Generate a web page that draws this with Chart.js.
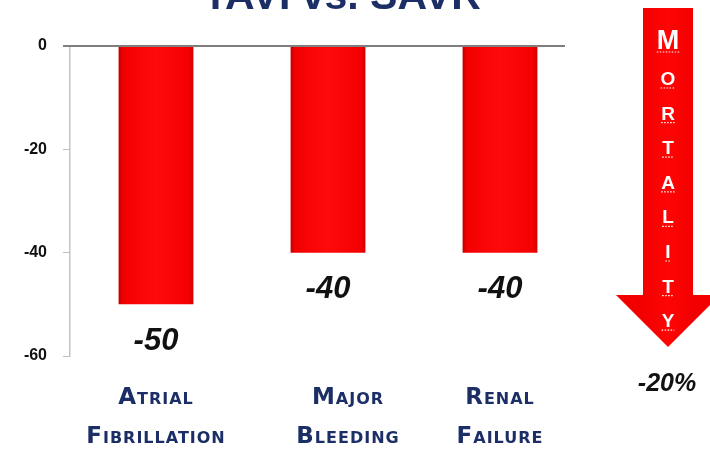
<!DOCTYPE html>
<html>
<head>
<meta charset="utf-8">
<script src="https://cdn.jsdelivr.net/npm/chart.js@4"></script>
<style>
  html, body { margin: 0; padding: 0; background: #fff; }
  #wrap { position: relative; width: 710px; height: 449px; }
</style>
</head>
<body>
<div id="wrap"><canvas id="outcomeChart" width="710" height="449"></canvas></div>
<script>
const chartTitle = 'TAVI vs. SAVR';
const categories = [['Atrial', 'Fibrillation'], ['Major', 'Bleeding'], ['Renal', 'Failure']];
const values = [-50, -40, -40];
const yTicks = [0, -20, -40, -60];
const arrowLetters = ['M', 'O', 'R', 'T', 'A', 'L', 'I', 'T', 'Y'];
const mortalityLabel = '-20%';

const NAVY = '#1c2e66';
const BAR_PCT = 0.435;
const LABEL_SHIFT = [0, 20, 0];

const barFill = (context) => {
  const chart = context.chart;
  if (!chart.chartArea) {
    return '#ff0000';
  }
  const xScale = chart.scales.x;
  const cx = xScale.getPixelForValue(context.dataIndex);
  const half = (xScale.width / categories.length) * BAR_PCT / 2;
  const g = chart.ctx.createLinearGradient(cx - half, 0, cx + half, 0);
  g.addColorStop(0, '#c40000');
  g.addColorStop(0.06, '#f20000');
  g.addColorStop(0.5, '#ff0a0a');
  g.addColorStop(0.94, '#f40000');
  g.addColorStop(1, '#d20000');
  return g;
};

// zero line, value labels under the bars, category labels, title and the mortality arrow
const decorations = {
  id: 'decorations',
  afterDatasetsDraw(chart) {
    const { ctx, chartArea, scales } = chart;
    const y0 = scales.y.getPixelForValue(0);

    ctx.save();
    ctx.strokeStyle = '#7f7f7f';
    ctx.lineWidth = 2;
    ctx.beginPath();
    ctx.moveTo(chartArea.left - 7, y0);
    ctx.lineTo(chartArea.right - 21, y0);
    ctx.stroke();

    ctx.fillStyle = '#111';
    ctx.font = 'italic bold 31px "Liberation Sans"';
    ctx.textAlign = 'center';
    ctx.textBaseline = 'middle';
    chart.getDatasetMeta(0).data.forEach((bar, i) => {
      ctx.fillText(String(values[i]), bar.x, bar.y + 37);
    });

    ctx.fillStyle = NAVY;
    ctx.font = 'small-caps bold 23px "DejaVu Sans"';
    if ('fontVariantCaps' in ctx) ctx.fontVariantCaps = 'small-caps';
    if ('letterSpacing' in ctx) ctx.letterSpacing = '1px';
    categories.forEach((lines, i) => {
      const x = scales.x.getPixelForValue(i) + LABEL_SHIFT[i];
      lines.forEach((line, j) => {
        ctx.fillText(line, x, chartArea.bottom + 42 + j * 39);
      });
    });
    ctx.restore();
  },
  afterDraw(chart) {
    const { ctx } = chart;
    ctx.save();

    ctx.fillStyle = NAVY;
    ctx.font = 'bold 41px "Liberation Sans"';
    ctx.textAlign = 'center';
    ctx.textBaseline = 'alphabetic';
    ctx.fillText(chartTitle, 342, 9);

    const g = ctx.createLinearGradient(643, 0, 693, 0);
    g.addColorStop(0, '#f20000');
    g.addColorStop(0.5, '#ff0505');
    g.addColorStop(1, '#f20000');
    ctx.fillStyle = g;
    ctx.beginPath();
    ctx.moveTo(643, 8);
    ctx.lineTo(693, 8);
    ctx.lineTo(693, 295);
    ctx.lineTo(720, 295);
    ctx.lineTo(668, 347);
    ctx.lineTo(616, 295);
    ctx.lineTo(643, 295);
    ctx.closePath();
    ctx.fill();

    ctx.fillStyle = '#fff';
    ctx.strokeStyle = '#fff';
    ctx.lineWidth = 1.2;
    ctx.textBaseline = 'alphabetic';
    arrowLetters.forEach((letter, i) => {
      const size = i === 0 ? 27 : 19;
      const base = i === 0 ? 49 : 78 + (i - 1) * 34.6 + 7;
      ctx.font = `bold ${size}px "Liberation Sans"`;
      ctx.fillText(letter, 668, base);
      const w = ctx.measureText(letter).width;
      ctx.setLineDash([1.5, 1.5]);
      ctx.beginPath();
      ctx.moveTo(668 - w / 2, base + 3);
      ctx.lineTo(668 + w / 2, base + 3);
      ctx.stroke();
    });
    ctx.setLineDash([]);

    ctx.fillStyle = '#111';
    ctx.font = 'italic bold 25px "Liberation Sans"';
    ctx.textBaseline = 'middle';
    ctx.fillText(mortalityLabel, 667, 384);
    ctx.restore();
  }
};

const initChart = () => {
  const canvas = document.getElementById('outcomeChart');
  if (!canvas || typeof window.Chart === 'undefined') {
    return;
  }

  new Chart(canvas, {
    type: 'bar',
    data: {
      labels: categories,
      datasets: [
        {
          data: values,
          backgroundColor: barFill,
          borderWidth: 0,
          barPercentage: BAR_PCT,
          categoryPercentage: 1
        }
      ]
    },
    options: {
      responsive: false,
      animation: false,
      layout: {
        padding: { top: 46, right: 124, bottom: 85, left: 0 }
      },
      scales: {
        x: {
          grid: { display: false },
          border: { display: false },
          ticks: { display: false }
        },
        y: {
          min: -60,
          max: 0,
          afterFit: (scale) => { scale.width = 70; },
          afterBuildTicks: (scale) => {
            scale.ticks = yTicks.map((v) => ({ value: v }));
          },
          grid: {
            drawOnChartArea: false,
            drawTicks: true,
            tickLength: 7,
            color: '#bfbfbf'
          },
          border: { color: '#c4c4c4', width: 1.5 },
          ticks: {
            padding: 16,
            color: '#111',
            font: { family: 'Liberation Sans', weight: 'bold', size: 16 }
          }
        }
      },
      plugins: {
        legend: { display: false },
        tooltip: { enabled: false }
      }
    },
    plugins: [decorations]
  });
};

document.addEventListener('DOMContentLoaded', initChart);
</script>
</body>
</html>
